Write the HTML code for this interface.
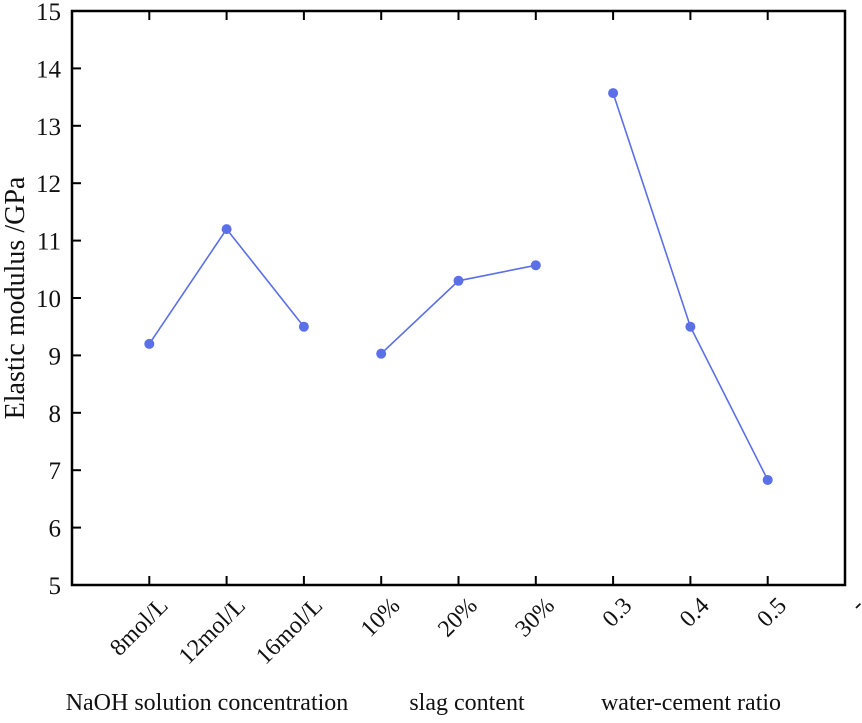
<!DOCTYPE html>
<html><head><meta charset="utf-8"><style>
body{margin:0;background:#fff}
svg text{font-family:"Liberation Serif",serif;fill:#111}
</style></head><body>
<svg id="c" width="862" height="718" xmlns="http://www.w3.org/2000/svg"></svg>
<script>
const categories=["8mol/L","12mol/L","16mol/L","10%","20%","30%","0.3","0.4","0.5","-"];
const naohValues=[9.2,11.2,9.5];
const slagValues=[9.03,10.3,10.57];
const wcValues=[13.57,9.5,6.83];
const yTicks=[5,6,7,8,9,10,11,12,13,14,15];
const groupLabels=["NaOH solution concentration","slag content","water-cement ratio"];
const groupCenters=[207,467,691];
const L=72,R=845,T=11,B=585;
const x=i=>L+(i+1)*(R-L)/10;
const y=v=>B-(v-5)*(B-T)/10;
const svg=document.getElementById('c');const NS='http://www.w3.org/2000/svg';
function mk(t,a,p){const e=document.createElementNS(NS,t);for(const k in a)e.setAttribute(k,a[k]);(p||svg).appendChild(e);return e;}
const frame=mk('rect',{x:L,y:T,width:R-L,height:B-T,fill:'none',stroke:'#000','stroke-width':2.5});


yTicks.forEach(v=>{
 const tk=mk('line',{x1:L,x2:L+9,y1:y(v),y2:y(v),stroke:'#000','stroke-width':2});
 
 
 const t=mk('text',{x:L-11,y:y(v)+9,'text-anchor':'end','font-size':25});t.textContent=v;
 
 
});
categories.forEach((c,i)=>{
 if(i<9){
 const a=mk('line',{x1:x(i),x2:x(i),y1:B,y2:B-9,stroke:'#000','stroke-width':2});
 
 
 const b=mk('line',{x1:x(i),x2:x(i),y1:T,y2:T+9,stroke:'#000','stroke-width':2});
 
 }
 const t=mk('text',{x:x(i)+20,y:B+22,'text-anchor':'end','font-size':24,transform:`rotate(-45 ${x(i)+20} ${B+22})`});t.textContent=c;
 
 
});
[[naohValues,0],[slagValues,3],[wcValues,6]].forEach(([vals,o],g)=>{
 const pl=mk('polyline',{points:vals.map((v,j)=>x(o+j)+','+y(v)).join(' '),fill:'none',stroke:'#5b6fe6','stroke-width':1.6});
 
 
 vals.forEach((v,j)=>{const p=mk('circle',{cx:x(o+j),cy:y(v),r:5,fill:'#5b6fe6'});
 
 });
 const gl=mk('text',{x:groupCenters[g],y:710,'text-anchor':'middle','font-size':24});gl.textContent=groupLabels[g];
 
 
});
const yt=mk('text',{x:24,y:298,'text-anchor':'middle','font-size':28,transform:'rotate(-90 24 298)'});yt.textContent='Elastic modulus /GPa';


</script>
</body></html>
